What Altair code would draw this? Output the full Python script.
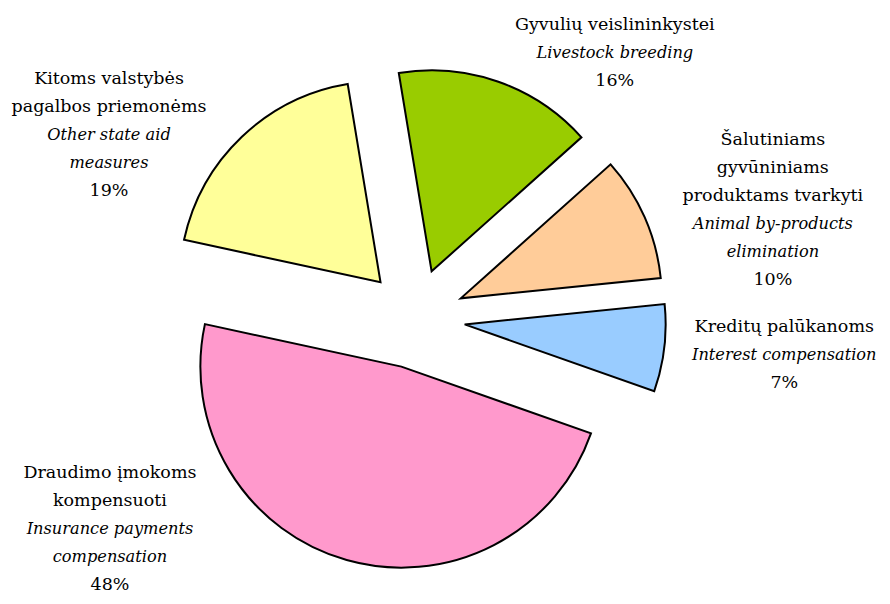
import math
import altair as alt
import pandas as pd

# ---- data ----
categories = ["Livestock breeding", "Animal by-products elimination",
              "Interest compensation", "Insurance payments compensation",
              "Other state aid measures"]
shares = [16, 10, 7, 48, 19]
colors = ["#99CC00", "#FFCC99", "#99CCFF", "#FF99CC", "#FFFF99"]
lt_lines = [["Gyvulių veislininkystei"],
            ["Šalutiniams", "gyvūniniams", "produktams tvarkyti"],
            ["Kreditų palūkanoms"],
            ["Draudimo įmokoms", "kompensuoti"],
            ["Kitoms valstybės", "pagalbos priemonėms"]]
en_lines = [["Livestock breeding"],
            ["Animal by-products", "elimination"],
            ["Interest compensation"],
            ["Insurance payments", "compensation"],
            ["Other state aid", "measures"]]
pct_labels = ["16%", "10%", "7%", "48%", "19%"]

# ---- layout ----
W, H = 874, 588
CX, CY = 407.0, 310.5
R = 201
EXPLODE = 50
START = math.radians(-9.4)
label_polar = [(37.0, 332), (73.1, 374), (95.5, 377), (233.6, 379), (301.0, 357)]
label_nudge = [(0, 0), (0, 0), (-6, 0), (0, -14), (0, 0)]
LH = 28
FONT = "DejaVu Serif"
FS = 17.5
FS_I = 16.2

pie_df = pd.DataFrame({"cat": categories, "share": shares,
                       "order": list(range(len(categories)))})

arcs = alt.Chart(pie_df).transform_window(
    cum="sum(share)", sort=[alt.SortField("order")], frame=[None, 0]
).transform_calculate(
    t0="datum.cum - datum.share",
    mid=f"{START} + (datum.cum - datum.share/2) / 100 * 2 * PI",
).transform_calculate(
    cx=f"{CX} + {EXPLODE} * sin(datum.mid)",
    cy=f"{CY} - {EXPLODE} * cos(datum.mid)",
).mark_arc(outerRadius=R, stroke="black", strokeWidth=2).encode(
    theta=alt.Theta("t0:Q", stack=None,
                    scale=alt.Scale(domain=[0, 100],
                                    range=[START + 2 * math.pi, START + 4 * math.pi])),
    theta2="cum:Q",
    x=alt.X("cx:Q", scale=None),
    y=alt.Y("cy:Q", scale=None),
    color=alt.Color("cat:N", scale=alt.Scale(domain=categories, range=colors), legend=None),
)

rows = []
for i, cat in enumerate(categories):
    lines = [(t, False) for t in lt_lines[i]] + [(t, True) for t in en_lines[i]] + [(pct_labels[i], False)]
    n = len(lines)
    a, r = label_polar[i]
    ax = CX + r * math.sin(math.radians(a)) + label_nudge[i][0]
    ay = CY - r * math.cos(math.radians(a)) + label_nudge[i][1]
    for k, (t, it) in enumerate(lines):
        rows.append({"cat": cat, "text": t, "italic": it,
                     "lx": ax, "ly": ay + (k - (n - 1) / 2) * LH})
lab_df = pd.DataFrame(rows)

base_t = alt.Chart(lab_df).encode(
    x=alt.X("lx:Q", scale=None), y=alt.Y("ly:Q", scale=None), text="text:N")
t_norm = base_t.transform_filter("!datum.italic").mark_text(
    font=FONT, fontSize=FS, align="center", baseline="middle", color="black")
t_ital = base_t.transform_filter("datum.italic").mark_text(
    font=FONT, fontSize=FS_I, fontStyle="italic", align="center", baseline="middle", color="black")

chart = alt.layer(arcs, t_norm, t_ital).properties(
    width=W, height=H, autosize="none", padding=0, background="white"
).configure_view(stroke=None)

chart.save("out.html", embed_options={"renderer": "svg", "actions": False})
